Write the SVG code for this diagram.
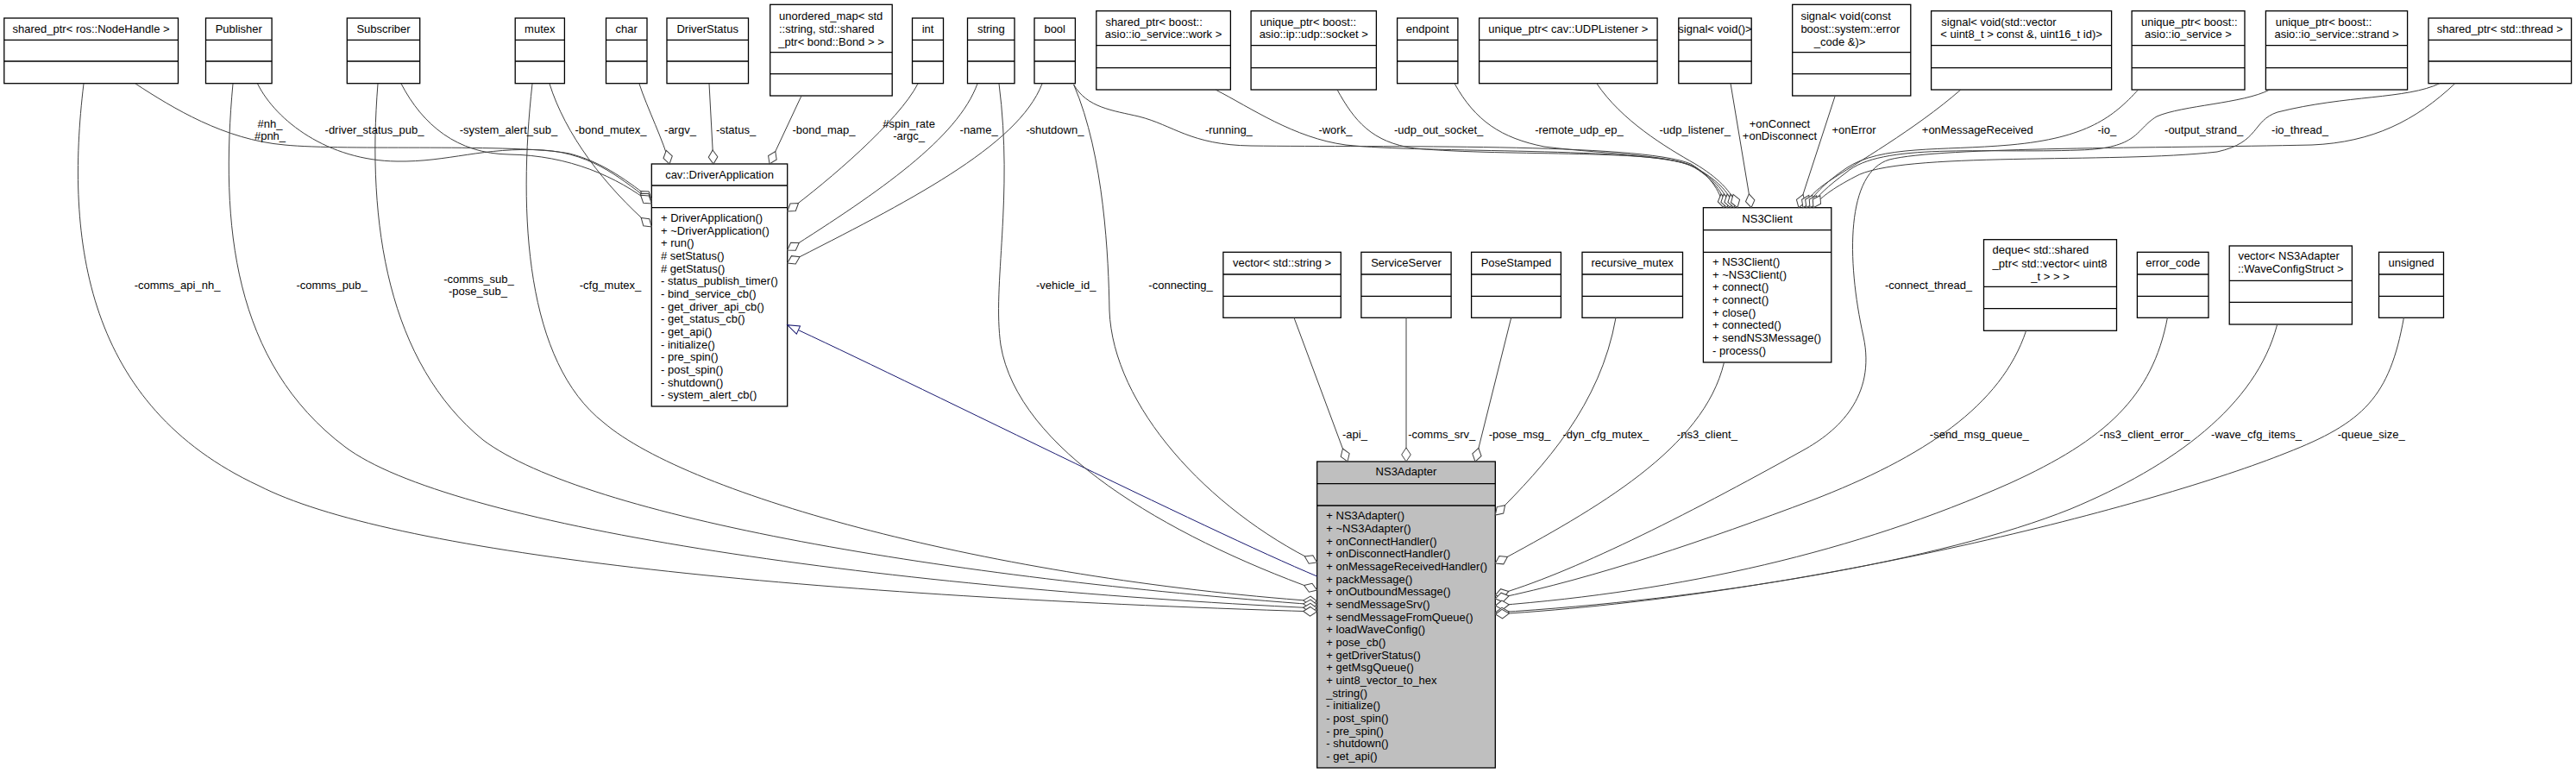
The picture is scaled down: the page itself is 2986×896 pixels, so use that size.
<svg xmlns="http://www.w3.org/2000/svg" width="2986" height="896" viewBox="0 0 2986 896">
<style>
text{font-family:"Liberation Sans",Arial,Helvetica,sans-serif;font-size:13px;fill:#000}
.c{text-anchor:middle}
.bx{fill:#fff;stroke:#000;stroke-width:1.3}
.gx{fill:#bfbfbf;stroke:#000;stroke-width:1.3}
.sp{stroke:#000;stroke-width:1.3}
.e{fill:none;stroke:#404040;stroke-width:1;marker-end:url(#dia)}
.inh{fill:none;stroke:#191970;stroke-width:1;marker-end:url(#tri)}
</style>
<defs>
<marker id="dia" markerUnits="userSpaceOnUse" viewBox="-1 -7 19 14" markerWidth="19" markerHeight="14" refX="16" refY="0" orient="auto" overflow="visible">
<path d="M0,0 L8,-5.3 L16,0 L8,5.3 Z" fill="#fff" stroke="#404040" stroke-width="1"/>
</marker>
<marker id="tri" markerUnits="userSpaceOnUse" viewBox="-1 -7 17 14" markerWidth="17" markerHeight="14" refX="14" refY="0" orient="auto" overflow="visible">
<path d="M0,-5 L14,0 L0,5 Z" fill="#fff" stroke="#191970" stroke-width="1"/>
</marker>
</defs>
<rect width="2986" height="896" fill="#fff"/>

<g id="nodes">
<g id="n_nh"><rect class="bx" x="4.8" y="21" width="201.7" height="75.7"/><line class="sp" x1="4.8" y1="46.3" x2="206.5" y2="46.3"/><line class="sp" x1="4.8" y1="71" x2="206.5" y2="71"/><text class="c" x="105.6" y="38">shared_ptr&lt; ros::NodeHandle &gt;</text></g>
<g id="n_pub"><rect class="bx" x="238.5" y="21" width="76.6" height="75.7"/><line class="sp" x1="238.5" y1="46.3" x2="315.1" y2="46.3"/><line class="sp" x1="238.5" y1="71" x2="315.1" y2="71"/><text class="c" x="276.8" y="38">Publisher</text></g>
<g id="n_sub"><rect class="bx" x="402.3" y="21" width="84.4" height="75.7"/><line class="sp" x1="402.3" y1="46.3" x2="486.7" y2="46.3"/><line class="sp" x1="402.3" y1="71" x2="486.7" y2="71"/><text class="c" x="444.5" y="38">Subscriber</text></g>
<g id="n_mutex"><rect class="bx" x="597.2" y="21" width="57.2" height="75.7"/><line class="sp" x1="597.2" y1="46.3" x2="654.4" y2="46.3"/><line class="sp" x1="597.2" y1="71" x2="654.4" y2="71"/><text class="c" x="625.8" y="38">mutex</text></g>
<g id="n_char"><rect class="bx" x="702.5" y="21" width="47.5" height="75.7"/><line class="sp" x1="702.5" y1="46.3" x2="750" y2="46.3"/><line class="sp" x1="702.5" y1="71" x2="750" y2="71"/><text class="c" x="726.2" y="38">char</text></g>
<g id="n_ds"><rect class="bx" x="773" y="21" width="94.5" height="75.7"/><line class="sp" x1="773" y1="46.3" x2="867.5" y2="46.3"/><line class="sp" x1="773" y1="71" x2="867.5" y2="71"/><text class="c" x="820.2" y="38">DriverStatus</text></g>
<g id="n_umap"><rect class="bx" x="892.7" y="5.3" width="141.5" height="105.7"/><line class="sp" x1="892.7" y1="60.7" x2="1034.2" y2="60.7"/><line class="sp" x1="892.7" y1="85.7" x2="1034.2" y2="85.7"/><text x="903" y="22.8">unordered_map&lt; std</text><text x="903" y="37.8">::string, std::shared</text><text class="c" x="963.5" y="52.8">_ptr&lt; bond::Bond &gt; &gt;</text></g>
<g id="n_int"><rect class="bx" x="1057.5" y="21" width="36" height="75.7"/><line class="sp" x1="1057.5" y1="46.3" x2="1093.5" y2="46.3"/><line class="sp" x1="1057.5" y1="71" x2="1093.5" y2="71"/><text class="c" x="1075.5" y="38">int</text></g>
<g id="n_string"><rect class="bx" x="1121.5" y="21" width="54.5" height="75.7"/><line class="sp" x1="1121.5" y1="46.3" x2="1176" y2="46.3"/><line class="sp" x1="1121.5" y1="71" x2="1176" y2="71"/><text class="c" x="1148.8" y="38">string</text></g>
<g id="n_bool"><rect class="bx" x="1199" y="21" width="47.4" height="75.7"/><line class="sp" x1="1199" y1="46.3" x2="1246.4" y2="46.3"/><line class="sp" x1="1199" y1="71" x2="1246.4" y2="71"/><text class="c" x="1222.7" y="38">bool</text></g>
<g id="n_work"><rect class="bx" x="1270.8" y="12.7" width="155.6" height="91.3"/><line class="sp" x1="1270.8" y1="52.7" x2="1426.4" y2="52.7"/><line class="sp" x1="1270.8" y1="78.7" x2="1426.4" y2="78.7"/><text x="1281.4" y="29.5">shared_ptr&lt; boost::</text><text class="c" x="1348.6" y="43.8">asio::io_service::work &gt;</text></g>
<g id="n_sock"><rect class="bx" x="1450.1" y="12.7" width="145.3" height="91.3"/><line class="sp" x1="1450.1" y1="52.7" x2="1595.4" y2="52.7"/><line class="sp" x1="1450.1" y1="78.7" x2="1595.4" y2="78.7"/><text x="1460.5" y="29.5">unique_ptr&lt; boost::</text><text class="c" x="1522.7" y="43.8">asio::ip::udp::socket &gt;</text></g>
<g id="n_ep"><rect class="bx" x="1619.6" y="21" width="70.3" height="75.7"/><line class="sp" x1="1619.6" y1="46.3" x2="1689.9" y2="46.3"/><line class="sp" x1="1619.6" y1="71" x2="1689.9" y2="71"/><text class="c" x="1654.7" y="38">endpoint</text></g>
<g id="n_udpl"><rect class="bx" x="1714.6" y="21" width="206.5" height="75.7"/><line class="sp" x1="1714.6" y1="46.3" x2="1921.1" y2="46.3"/><line class="sp" x1="1714.6" y1="71" x2="1921.1" y2="71"/><text class="c" x="1817.8" y="38">unique_ptr&lt; cav::UDPListener &gt;</text></g>
<g id="n_sigv"><rect class="bx" x="1945.8" y="21" width="84.4" height="75.7"/><line class="sp" x1="1945.8" y1="46.3" x2="2030.2" y2="46.3"/><line class="sp" x1="1945.8" y1="71" x2="2030.2" y2="71"/><text class="c" x="1988" y="38">signal&lt; void()&gt;</text></g>
<g id="n_sigerr"><rect class="bx" x="2077.7" y="5.3" width="137.1" height="105.7"/><line class="sp" x1="2077.7" y1="60.7" x2="2214.8" y2="60.7"/><line class="sp" x1="2077.7" y1="85.7" x2="2214.8" y2="85.7"/><text x="2087.4" y="22.8">signal&lt; void(const</text><text x="2087.4" y="37.8">boost::system::error</text><text class="c" x="2132.5" y="52.8">_code &amp;)&gt;</text></g>
<g id="n_sigmsg"><rect class="bx" x="2238.6" y="12.7" width="209" height="91.3"/><line class="sp" x1="2238.6" y1="52.7" x2="2447.6" y2="52.7"/><line class="sp" x1="2238.6" y1="78.7" x2="2447.6" y2="78.7"/><text x="2250.3" y="29.5">signal&lt; void(std::vector</text><text class="c" x="2343.1" y="43.8">&lt; uint8_t &gt; const &amp;, uint16_t id)&gt;</text></g>
<g id="n_ios"><rect class="bx" x="2471.1" y="12.7" width="130.9" height="91.3"/><line class="sp" x1="2471.1" y1="52.7" x2="2602" y2="52.7"/><line class="sp" x1="2471.1" y1="78.7" x2="2602" y2="78.7"/><text x="2482" y="29.5">unique_ptr&lt; boost::</text><text class="c" x="2536.5" y="43.8">asio::io_service &gt;</text></g>
<g id="n_strand"><rect class="bx" x="2626.4" y="12.7" width="164.2" height="91.3"/><line class="sp" x1="2626.4" y1="52.7" x2="2790.6" y2="52.7"/><line class="sp" x1="2626.4" y1="78.7" x2="2790.6" y2="78.7"/><text x="2637.7" y="29.5">unique_ptr&lt; boost::</text><text class="c" x="2708.5" y="43.8">asio::io_service::strand &gt;</text></g>
<g id="n_thread"><rect class="bx" x="2815" y="21" width="165.6" height="75.7"/><line class="sp" x1="2815" y1="46.3" x2="2980.6" y2="46.3"/><line class="sp" x1="2815" y1="71" x2="2980.6" y2="71"/><text class="c" x="2897.8" y="38">shared_ptr&lt; std::thread &gt;</text></g>

<g id="n_da"><rect class="bx" x="755.3" y="190" width="157.4" height="281"/><line class="sp" x1="755.3" y1="215" x2="912.7" y2="215"/><line class="sp" x1="755.3" y1="240.7" x2="912.7" y2="240.7"/><text class="c" x="834" y="206.5">cav::DriverApplication</text>
<text x="766" y="256.8">+ DriverApplication()</text>
<text x="766" y="271.5">+ ~DriverApplication()</text>
<text x="766" y="286.1">+ run()</text>
<text x="766" y="300.8"># setStatus()</text>
<text x="766" y="315.5"># getStatus()</text>
<text x="766" y="330.2">- status_publish_timer()</text>
<text x="766" y="344.8">- bind_service_cb()</text>
<text x="766" y="359.5">- get_driver_api_cb()</text>
<text x="766" y="374.2">- get_status_cb()</text>
<text x="766" y="388.8">- get_api()</text>
<text x="766" y="403.5">- initialize()</text>
<text x="766" y="418.2">- pre_spin()</text>
<text x="766" y="432.8">- post_spin()</text>
<text x="766" y="447.5">- shutdown()</text>
<text x="766" y="462.2">- system_alert_cb()</text></g>

<g id="n_ns3client"><rect class="bx" x="1974.4" y="240.7" width="148.4" height="179.3"/><line class="sp" x1="1974.4" y1="266.7" x2="2122.8" y2="266.7"/><line class="sp" x1="1974.4" y1="292.3" x2="2122.8" y2="292.3"/><text class="c" x="2048.6" y="258">NS3Client</text>
<text x="1985" y="307.8">+ NS3Client()</text>
<text x="1985" y="322.5">+ ~NS3Client()</text>
<text x="1985" y="337.1">+ connect()</text>
<text x="1985" y="351.8">+ connect()</text>
<text x="1985" y="366.5">+ close()</text>
<text x="1985" y="381.2">+ connected()</text>
<text x="1985" y="395.8">+ sendNS3Message()</text>
<text x="1985" y="410.5">- process()</text></g>

<g id="n_vstr"><rect class="bx" x="1417.9" y="292.3" width="136.4" height="76"/><line class="sp" x1="1417.9" y1="318" x2="1554.3" y2="318"/><line class="sp" x1="1417.9" y1="343.3" x2="1554.3" y2="343.3"/><text class="c" x="1486.1" y="308.8">vector&lt; std::string &gt;</text></g>
<g id="n_srv"><rect class="bx" x="1577.9" y="292.3" width="104.2" height="76"/><line class="sp" x1="1577.9" y1="318" x2="1682.1" y2="318"/><line class="sp" x1="1577.9" y1="343.3" x2="1682.1" y2="343.3"/><text class="c" x="1630" y="308.8">ServiceServer</text></g>
<g id="n_pose"><rect class="bx" x="1705.6" y="292.3" width="103.8" height="76"/><line class="sp" x1="1705.6" y1="318" x2="1809.4" y2="318"/><line class="sp" x1="1705.6" y1="343.3" x2="1809.4" y2="343.3"/><text class="c" x="1757.5" y="308.8">PoseStamped</text></g>
<g id="n_rmutex"><rect class="bx" x="1834" y="292.3" width="116.5" height="76"/><line class="sp" x1="1834" y1="318" x2="1950.5" y2="318"/><line class="sp" x1="1834" y1="343.3" x2="1950.5" y2="343.3"/><text class="c" x="1892.2" y="308.8">recursive_mutex</text></g>
<g id="n_deque"><rect class="bx" x="2299.5" y="277.7" width="154" height="105.6"/><line class="sp" x1="2299.5" y1="332.3" x2="2453.5" y2="332.3"/><line class="sp" x1="2299.5" y1="357.7" x2="2453.5" y2="357.7"/><text x="2309.6" y="293.8">deque&lt; std::shared</text><text x="2309.6" y="309.5">_ptr&lt; std::vector&lt; uint8</text><text class="c" x="2376.5" y="324.5">_t &gt; &gt; &gt;</text></g>
<g id="n_ec"><rect class="bx" x="2477.4" y="292.3" width="82.6" height="76"/><line class="sp" x1="2477.4" y1="318" x2="2560" y2="318"/><line class="sp" x1="2477.4" y1="343.3" x2="2560" y2="343.3"/><text class="c" x="2518.7" y="308.8">error_code</text></g>
<g id="n_wave"><rect class="bx" x="2584.2" y="285" width="142.2" height="91"/><line class="sp" x1="2584.2" y1="325.3" x2="2726.4" y2="325.3"/><line class="sp" x1="2584.2" y1="350.3" x2="2726.4" y2="350.3"/><text x="2594.4" y="301.2">vector&lt; NS3Adapter</text><text class="c" x="2655.3" y="316.2">::WaveConfigStruct &gt;</text></g>
<g id="n_uns"><rect class="bx" x="2757.5" y="292.3" width="75" height="76"/><line class="sp" x1="2757.5" y1="318" x2="2832.5" y2="318"/><line class="sp" x1="2757.5" y1="343.3" x2="2832.5" y2="343.3"/><text class="c" x="2795" y="308.8">unsigned</text></g>

<g id="n_ns3adapter"><rect class="gx" x="1526.7" y="535" width="206.6" height="355"/><line class="sp" x1="1526.7" y1="560.7" x2="1733.3" y2="560.7"/><line class="sp" x1="1526.7" y1="586" x2="1733.3" y2="586"/><text class="c" x="1630" y="551.2">NS3Adapter</text>
<text x="1537.3" y="602.2">+ NS3Adapter()</text>
<text x="1537.3" y="616.9">+ ~NS3Adapter()</text>
<text x="1537.3" y="631.5">+ onConnectHandler()</text>
<text x="1537.3" y="646.2">+ onDisconnectHandler()</text>
<text x="1537.3" y="660.9">+ onMessageReceivedHandler()</text>
<text x="1537.3" y="675.5">+ packMessage()</text>
<text x="1537.3" y="690.2">+ onOutboundMessage()</text>
<text x="1537.3" y="704.9">+ sendMessageSrv()</text>
<text x="1537.3" y="719.6">+ sendMessageFromQueue()</text>
<text x="1537.3" y="734.2">+ loadWaveConfig()</text>
<text x="1537.3" y="748.9">+ pose_cb()</text>
<text x="1537.3" y="763.6">+ getDriverStatus()</text>
<text x="1537.3" y="778.2">+ getMsgQueue()</text>
<text x="1537.3" y="792.9">+ uint8_vector_to_hex</text>
<text x="1537.3" y="807.6">_string()</text>
<text x="1537.3" y="822.3">- initialize()</text>
<text x="1537.3" y="836.9">- post_spin()</text>
<text x="1537.3" y="851.6">- pre_spin()</text>
<text x="1537.3" y="866.3">- shutdown()</text>
<text x="1537.3" y="880.9">- get_api()</text></g>
</g>

<g id="connectors">
<path id="e_nh" class="e" d="M157,97 C200,125 260,162 330,168 C400,175 600,166 660,178 C700,188 730,212 755.3,231"/>
<path id="e_dsp" class="e" d="M298.5,97 C320,140 380,186 460,187 C520,188 560,170 630,174 C690,178 725,212 755.3,233.5"/>
<path id="e_sas" class="e" d="M465,97 C490,145 530,178 590,179 C660,180 715,205 755.3,236"/>
<path id="e_bm" class="e" d="M637,97 C655,155 700,215 755.3,263"/>
<path id="e_argv" class="e" d="M741,97 C750,125 770,165 776,190"/>
<path id="e_status" class="e" d="M822,97 L827,190"/>
<path id="e_bmap" class="e" d="M929,111 L892,190"/>
<path id="e_spin" class="e" d="M1064,97 C1042,140 960,210 912.7,245"/>
<path id="e_name" class="e" d="M1133,97 C1110,160 1020,222 912.7,290"/>
<path id="e_shut" class="e" d="M1208,97 C1180,170 1050,235 912.7,305"/>
<path id="e_inh" class="inh" d="M1526.7,668 C1400,615 1050,440 912.7,376.7"/>
<path id="e_cfg" class="e" d="M617,97 C600,250 610,420 700,490 C800,575 1150,670 1526.7,697"/>
<path id="e_csub" class="e" d="M438,97 C425,260 450,420 560,510 C680,600 1100,670 1526.7,701"/>
<path id="e_cpub" class="e" d="M270,97 C255,260 270,420 400,518 C520,608 1000,680 1526.7,705"/>
<path id="e_capi" class="e" d="M97,97 C75,280 100,470 300,563 C450,640 900,690 1526.7,709"/>
<path id="e_vid" class="e" d="M1158,97 C1175,230 1150,330 1160,400 C1180,520 1350,620 1526.7,684"/>
<path id="e_conn" class="e" d="M1244.6,98 C1280,180 1285,300 1286,360 C1290,470 1400,590 1526.7,652"/>
<path id="e_api" class="e" d="M1500,368.3 L1562,535"/>
<path id="e_srv" class="e" d="M1630,368.3 L1630,535"/>
<path id="e_pose" class="e" d="M1751.7,368.3 L1710,535"/>
<path id="e_dyn" class="e" d="M1873,368.3 C1855,470 1790,540 1733.3,597"/>
<path id="e_ns3c" class="e" d="M1998.5,420 C1975,520 1850,590 1733.3,653"/>
<path id="e_cthr" class="e" d="M2845.8,96.7 C2800,140 2750,165 2680,168 C2500,172 2250,170 2190,185 C2140,200 2140,300 2160,390 C2175,460 2130,500 2090,522 C1950,600 1820,665 1733.3,690"/>
<path id="e_smq" class="e" d="M2348.6,383.3 C2320,470 2230,530 2100,580 C1980,625 1850,670 1733.3,694"/>
<path id="e_nce" class="e" d="M2512.4,368.3 C2495,460 2440,510 2330,560 C2150,640 1950,685 1733.3,702"/>
<path id="e_wave" class="e" d="M2639.5,376.7 C2615,470 2520,540 2400,590 C2250,650 1980,695 1733.3,710"/>
<path id="e_qs" class="e" d="M2786.4,368.3 C2770,460 2740,490 2650,525 C2500,585 2100,690 1733.3,712"/>
<path id="e_run" class="e" d="M1244.6,98 C1260,125 1290,128 1320,135 C1360,145 1380,168 1450,169 C1600,171 1900,165 1960,190 C1985,205 1995,225 1998,240.7"/>
<path id="e_work" class="e" d="M1409,104 C1450,125 1500,160 1560,168 C1650,178 1910,170 1960,192 C1985,205 1998,225 2002,240.7"/>
<path id="e_uos" class="e" d="M1550,104 C1570,140 1590,165 1640,172 C1750,182 1930,172 1965,194 C1988,208 2002,225 2006,240.7"/>
<path id="e_rue" class="e" d="M1686,96.7 C1710,140 1740,160 1790,170 C1870,180 1940,178 1970,197 C1992,210 2006,225 2010,240.7"/>
<path id="e_ul" class="e" d="M1850.8,96.7 C1880,140 1930,170 1965,190 C1990,205 2008,222 2014,240.7"/>
<path id="e_onc" class="e" d="M2006,96.7 L2030,240.7"/>
<path id="e_one" class="e" d="M2127,111.7 L2085,240.7"/>
<path id="e_onm" class="e" d="M2272.8,104 C2220,150 2150,190 2120,210 C2105,220 2095,230 2090,240.7"/>
<path id="e_io" class="e" d="M2478.5,104 C2450,135 2420,160 2330,168 C2250,175 2180,168 2140,195 C2115,212 2100,228 2094,240.7"/>
<path id="e_os" class="e" d="M2631,104 C2600,120 2530,122 2500,135 C2475,150 2480,172 2410,174 C2300,178 2180,165 2140,200 C2120,215 2105,228 2098,240.7"/>
<path id="e_iot" class="e" d="M2828,96.7 C2790,115 2720,110 2640,130 C2610,140 2620,165 2570,176 C2450,190 2200,175 2150,205 C2125,218 2108,230 2102,240.7"/>
</g>

<g id="labels">
<text class="c" x="313" y="147.5">#nh_</text>
<text class="c" x="313" y="161.5">#pnh_</text>
<text class="c" x="434" y="154.5">-driver_status_pub_</text>
<text class="c" x="589.5" y="154.5">-system_alert_sub_</text>
<text class="c" x="708" y="154.5">-bond_mutex_</text>
<text class="c" x="788.5" y="154.5">-argv_</text>
<text class="c" x="853" y="154.5">-status_</text>
<text class="c" x="955" y="154.5">-bond_map_</text>
<text class="c" x="1053.6" y="147.5">#spin_rate</text>
<text class="c" x="1053.6" y="161.5">-argc_</text>
<text class="c" x="1134.6" y="154.5">-name_</text>
<text class="c" x="1222.8" y="154.5">-shutdown_</text>
<text class="c" x="1424.4" y="154.5">-running_</text>
<text class="c" x="1547.9" y="154.5">-work_</text>
<text class="c" x="1667.6" y="154.5">-udp_out_socket_</text>
<text class="c" x="1830.5" y="154.5">-remote_udp_ep_</text>
<text class="c" x="1964.7" y="154.5">-udp_listener_</text>
<text class="c" x="2063" y="147.5">+onConnect</text>
<text class="c" x="2063" y="161.5">+onDisconnect</text>
<text class="c" x="2149" y="154.5">+onError</text>
<text class="c" x="2292.3" y="154.5">+onMessageReceived</text>
<text class="c" x="2442.3" y="154.5">-io_</text>
<text class="c" x="2554.6" y="154.5">-output_strand_</text>
<text class="c" x="2666" y="154.5">-io_thread_</text>
<text class="c" x="205.5" y="334.5">-comms_api_nh_</text>
<text class="c" x="384.6" y="334.5">-comms_pub_</text>
<text class="c" x="555" y="327.5">-comms_sub_</text>
<text class="c" x="554" y="341.5">-pose_sub_</text>
<text class="c" x="707.5" y="334.5">-cfg_mutex_</text>
<text class="c" x="1235.7" y="334.5">-vehicle_id_</text>
<text class="c" x="1368.6" y="334.5">-connecting_</text>
<text class="c" x="2235.5" y="334.5">-connect_thread_</text>
<text class="c" x="1570.5" y="507.5">-api_</text>
<text class="c" x="1671.3" y="507.5">-comms_srv_</text>
<text class="c" x="1761.5" y="507.5">-pose_msg_</text>
<text class="c" x="1861.4" y="507.5">-dyn_cfg_mutex_</text>
<text class="c" x="1978.9" y="507.5">-ns3_client_</text>
<text class="c" x="2294.3" y="507.5">-send_msg_queue_</text>
<text class="c" x="2486.2" y="507.5">-ns3_client_error_</text>
<text class="c" x="2615.5" y="507.5">-wave_cfg_items_</text>
<text class="c" x="2748.7" y="507.5">-queue_size_</text>
</g>
</svg>
